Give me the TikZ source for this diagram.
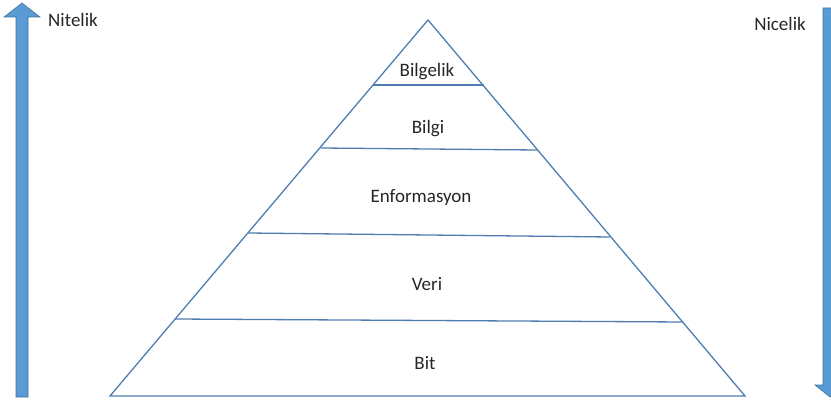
\documentclass[tikz,border=0pt]{standalone}
\usepackage{fontspec}
\setmainfont{Carlito}
\definecolor{arrfill}{HTML}{5B9BD5}
\definecolor{arrdraw}{HTML}{41719C}
\definecolor{pyr}{HTML}{4F7DB0}
\begin{document}
\begin{tikzpicture}[x=1pt,y=-1pt,
  lvl/.style={draw=pyr,line width=1.3pt},
  lbl/.style={font=\fontsize{19}{21}\selectfont,text=black!85,inner sep=0pt},
  bigarrow/.style={fill=arrfill,draw=arrdraw,line width=0.6pt}]
\useasboundingbox (0,0) rectangle (831,401);
% pyramid
\coordinate (apex) at (428,20);
\coordinate (bl) at (110,396);
\coordinate (br) at (745,396);
\draw[lvl,line join=miter] (apex) -- (bl) -- (br) -- cycle;
\coordinate (l1) at (373,85);  \coordinate (r1) at (484,85);
\coordinate (l2) at (321,148); \coordinate (r2) at (537,150);
\coordinate (l3) at (248,233); \coordinate (r3) at (610,237);
\coordinate (l4) at (175,319); \coordinate (r4) at (683,322);
\draw[lvl] (l1) -- (r1);
\draw[lvl] (l2) -- (r2);
\draw[lvl] (l3) -- (r3);
\draw[lvl] (l4) -- (r4);
\node[lbl] (t1) at (427,72) {Bilgelik};
\node[lbl] (t2) at (428,129) {Bilgi};
\node[lbl] (t3) at (421,198) {Enformasyon};
\node[lbl] (t4) at (427,284) {Veri};
\node[lbl] (t5) at (425,363) {Bit};
% left arrow (up)
\draw[bigarrow] (16,397) -- (16,17) -- (4,17) -- (22,3) -- (40,17) -- (28,17) -- (28,397) -- cycle;
\node[lbl,anchor=west] (nit) at (48,20) {Nitelik};
% right arrow (down), clipped at the page edge
\draw[bigarrow] (823,8) -- (823,385) -- (815,385) -- (830,397) -- (845,385) -- (837,385) -- (837,8) -- cycle;
\node[lbl,anchor=east] (nic) at (806,24) {Nicelik};
\end{tikzpicture}
\end{document}
